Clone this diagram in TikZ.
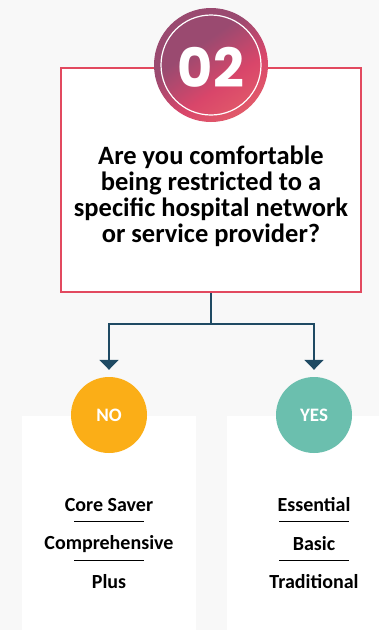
\documentclass[tikz,border=0pt]{standalone}
\usepackage{fontspec}
\setmainfont{Carlito}
\newfontfamily\badgefont{Poppins}
\usetikzlibrary{arrows.meta,positioning}

\definecolor{pagebg}{HTML}{F8F8F8}
\definecolor{boxred}{HTML}{E2495F}
\definecolor{flowblue}{HTML}{1F4A63}
\definecolor{noorange}{HTML}{FBAE17}
\definecolor{yesteal}{HTML}{6BBFAE}
\definecolor{badgeA}{HTML}{9A4A70}
\definecolor{badgeB}{HTML}{D9466A}
\definecolor{badgeC}{HTML}{EF7C6A}
\pgfdeclarehorizontalshading{badgeshade}{100bp}{color(0bp)=(badgeA); color(40bp)=(badgeA); color(60bp)=(badgeB); color(100bp)=(badgeC)}

\tikzset{
  answer/.style={circle,fill=#1,minimum size=76pt,inner sep=0pt,
    text=white,font=\fontsize{19}{19}\selectfont\bfseries},
  panel/.style={fill=white,draw=none},
  item/.style={font=\fontsize{20}{22}\selectfont\bfseries,inner sep=0pt},
  flow/.style={flowblue,line width=2pt,-{Triangle[width=19pt,length=10pt]}}
}

\begin{document}
\begin{tikzpicture}[x=1pt,y=-1pt]
\useasboundingbox[fill=pagebg] (0,0) rectangle (379,630);

% question box
\node[draw=boxred,line width=2pt,fill=white,minimum width=300pt,minimum height=224pt,
  inner sep=0pt] (qbox) at (211,180) {};
\node[shade,shading=badgeshade,shading angle=-55,circle,minimum size=114pt,inner sep=0pt] (badge) at (211,65) {};
\draw[white,line width=1.2pt] (badge.center) circle (50pt);
\node[text=white,font=\badgefont\fontsize{54}{54}\selectfont\bfseries] (num) at (211,67) {02};
\node[align=center,font=\fontsize{26.5}{26}\selectfont\bfseries] (question) at (211,196)
  {Are you comfortable\\being restricted to a\\specific hospital network\\or service provider?};

% panels
\fill[panel] (22,416) rectangle (196,630);
\fill[panel] (227,416) rectangle (379,630);

% answers
\node[answer=noorange] (no) at (109,415) {NO};
\node[answer=yesteal] (yes) at (314,415) {YES};

\coordinate (split) at (211,324);
\draw[flowblue,line width=2pt] (qbox.south -| split) -- (split);
\draw[flow,shorten >=7pt] (split) -| (no);
\draw[flow,shorten >=7pt] (split) -| (yes);

% plan lists
\node[item] (core) at (109,505) {Core Saver};
\node[item] (comp) at (109,544) {Comprehensive};
\node[item] (plus) at (109,582) {Plus};
\node[item] (ess) at (314,505) {Essential};
\node[item] (basic) at (314,544) {Basic};
\node[item] (trad) at (314,582) {Traditional};
\foreach \xx in {109,314}
  {
  \draw[line width=0.8pt] (\xx-35,521) -- (\xx+35,521);
  \draw[line width=0.8pt] (\xx-35,560) -- (\xx+35,560);
  }
\end{tikzpicture}
\end{document}
